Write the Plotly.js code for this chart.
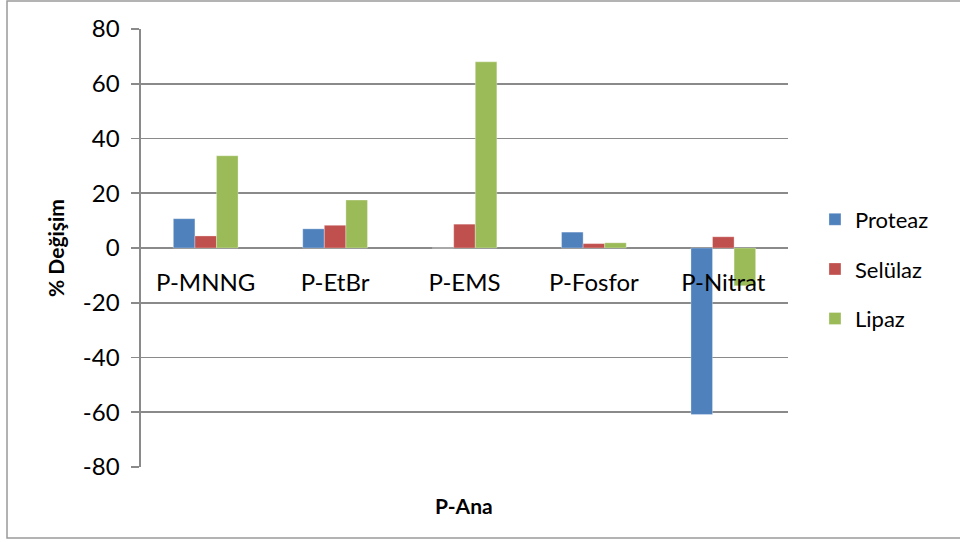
<!DOCTYPE html>
<html>
<head>
<meta charset="utf-8">
<script src="https://cdn.plot.ly/plotly-3.0.1.min.js"></script>
<style>html,body{margin:0;padding:0;background:#fff;}#chart{width:960px;height:542px;}</style>
</head>
<body>
<div id="chart"></div>
<script>
const categories = ['P-MNNG', 'P-EtBr', 'P-EMS', 'P-Fosfor', 'P-Nitrat'];
const proteaz = [10.7, 7.0, 0, 5.8, -60.8];
const selulaz = [4.4, 8.3, 8.7, 1.6, 4.1];
const lipaz = [33.7, 17.5, 68.0, 1.9, -13.8];
const seriesNames = ['Proteaz', 'Selülaz', 'Lipaz'];
const yTicks = [-80, -60, -40, -20, 0, 20, 40, 60, 80];
const yTickText = ['-80', '-60', '-40', '-20', '0', '20', '40', '60', '80'];

const colors = ['#4F81BD', '#C0504D', '#9BBB59'];
const FONT = 'Lato, "Liberation Sans", sans-serif';
const grid = '#8a8a8a';

const traces = [proteaz, selulaz, lipaz].map((vals, i) => ({
  type: 'bar',
  name: seriesNames[i],
  x: categories,
  y: vals,
  legendgroup: 'g' + i,
  marker: {color: colors[i], line: {color: 'rgba(255,255,255,0.5)', width: 0.6}}
}));

const layout = {
  width: 960, height: 542,
  margin: {l: 141, r: 172, t: 29, b: 75},
  paper_bgcolor: '#fff', plot_bgcolor: '#fff',
  font: {family: FONT, color: '#000'},
  barmode: 'group', bargap: 0.5, bargroupgap: 0,
  showlegend: true,
  legend: {
    x: 1.0417, xanchor: 'left', y: 0.452, yanchor: 'middle',
    font: {family: FONT, size: 22, color: '#000'},
    traceorder: 'grouped', tracegroupgap: 18,
    itemwidth: 30, bgcolor: 'rgba(0,0,0,0)'
  },
  xaxis: {
    type: 'category',
    anchor: 'free', position: 0.5,
    showline: false, showgrid: false, zeroline: false,
    ticks: '', ticklabelstandoff: 18,
    tickfont: {family: FONT, size: 24, color: '#000'}
  },
  yaxis: {
    range: [-80, 80], tickvals: yTicks, ticktext: yTickText,
    showgrid: true, gridcolor: grid, gridwidth: 1.6,
    zeroline: true, zerolinecolor: grid, zerolinewidth: 1.6,
    showline: true, linecolor: grid, linewidth: 1.6,
    ticks: 'outside', ticklen: 8, tickcolor: grid, tickwidth: 1.6,
    ticklabelstandoff: 7,
    tickfont: {family: FONT, size: 24, color: '#000'},
    title: {text: '<b>% Değişim</b>', font: {family: FONT, size: 21, color: '#000'}, standoff: 12}
  },
  annotations: [{
    xref: 'paper', yref: 'paper', x: 0.4985, y: -0.055, yanchor: 'top', showarrow: false,
    text: '<b>P-Ana</b>', font: {family: FONT, size: 21, color: '#000'}
  }],
  shapes: [{
    type: 'rect', xref: 'paper', yref: 'paper',
    x0: -0.2071, x1: 1.32, y0: -0.1621, y1: 1.0639,
    line: {color: '#9a9a9a', width: 1.5}, fillcolor: 'rgba(0,0,0,0)', layer: 'below'
  }]
};

Plotly.newPlot('chart', traces, layout, {displayModeBar: false, staticPlot: true});
</script>
</body>
</html>
